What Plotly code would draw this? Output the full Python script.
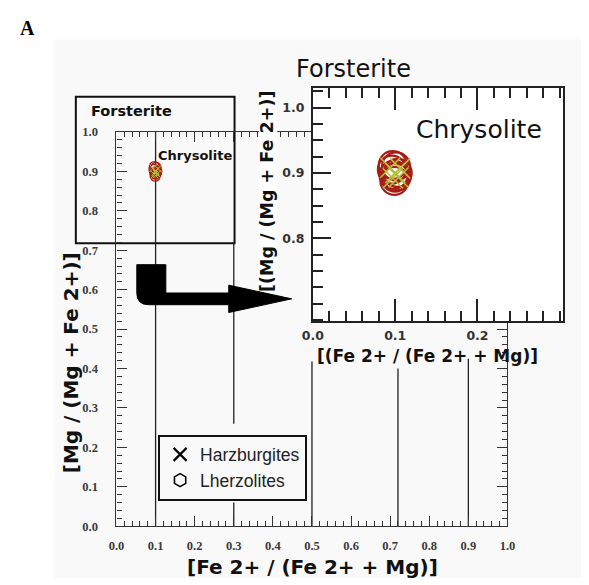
import plotly.graph_objects as go

W, H = 589, 585

# ---------------- data ----------------
# Lherzolites (olivine analyses): Fe# and Mg#
lherz_fe = [0.096, 0.098, 0.100, 0.101, 0.099, 0.103, 0.097, 0.102]
lherz_mg = [0.905, 0.897, 0.893, 0.910, 0.888, 0.900, 0.912, 0.895]
# Harzburgites
harz_fe = [0.094, 0.106, 0.097, 0.104, 0.100]
harz_mg = [0.908, 0.907, 0.892, 0.893, 0.900]

main_tickvals = [0.0, 0.1, 0.2, 0.3, 0.4, 0.5, 0.6, 0.7, 0.8, 0.9, 1.0]
inset_xtickvals = [0.0, 0.1, 0.2]
inset_ytickvals = [0.8, 0.9, 1.0]
inset_yminor = [0.675, 0.7, 0.725, 0.75, 0.775, 0.8, 0.825, 0.85, 0.875,
                0.9, 0.925, 0.95, 0.975, 1.0, 1.025]

# olivine class boundaries drawn in the main diagram (x, y-from, y-to)
bound_x = [0.1, 0.3, 0.3, 0.5, 0.72, 0.9]
bound_y0 = [0.0, 0.26, 0.0, 0.0, 0.0, 0.0]
bound_y1 = [1.0, 0.718, 0.06, 0.418, 0.40, 0.425]
inset_bound_x = [0.1]

legend_names = ["Harzburgites", "Lherzolites"]
RED = "#a81c16"
GREEN = "#b4bf3a"


def px(x):
    return x / W


def py(y):
    return 1 - y / H


fig = go.Figure()

# main diagram
fig.add_trace(go.Scatter(x=lherz_fe, y=lherz_mg, mode="markers", xaxis="x", yaxis="y",
                         showlegend=False, hoverinfo="skip",
                         marker=dict(symbol="circle-open", size=10, color=RED,
                                     line=dict(width=1.4, color=RED))))
fig.add_trace(go.Scatter(x=harz_fe, y=harz_mg, mode="markers", xaxis="x", yaxis="y",
                         showlegend=False, hoverinfo="skip",
                         marker=dict(symbol="x-thin-open", size=8, color=GREEN,
                                     line=dict(width=1, color=GREEN))))
# enlarged inset
fig.add_trace(go.Scatter(x=lherz_fe, y=lherz_mg, mode="markers", xaxis="x2", yaxis="y2",
                         showlegend=False, hoverinfo="skip",
                         marker=dict(symbol="circle-open", size=28, color=RED,
                                     line=dict(width=2.2, color=RED))))
fig.add_trace(go.Scatter(x=harz_fe, y=harz_mg, mode="markers", xaxis="x2", yaxis="y2",
                         showlegend=False, hoverinfo="skip",
                         marker=dict(symbol="x-thin-open", size=20, color=GREEN,
                                     line=dict(width=1.6, color=GREEN))))
# legend entries (black symbols as in the key)
fig.add_trace(go.Scatter(x=[None], y=[None], mode="markers", name=legend_names[0],
                         marker=dict(symbol="x-thin-open", size=13, color="black",
                                     line=dict(width=2.2, color="black"))))
fig.add_trace(go.Scatter(x=[None], y=[None], mode="markers", name=legend_names[1],
                         marker=dict(symbol="hexagon-open", size=13, color="black",
                                     line=dict(width=1.6, color="black"))))

shapes = []
# light grey page background
shapes.append(dict(type="rect", xref="paper", yref="paper", layer="below",
                   x0=px(45), x1=1, y0=0, y1=py(33),
                   fillcolor="#f9f9f9", line=dict(width=0)))
# box around the upper-left part of the diagram
shapes.append(dict(type="rect", xref="paper", yref="paper", layer="below",
                   x0=px(67), x1=px(231), y0=py(242), y1=py(92),
                   line=dict(color="#111", width=2)))
# boundary lines of the main diagram
for xv, a, b in zip(bound_x, bound_y0, bound_y1):
    shapes.append(dict(type="line", xref="x", yref="y", layer="below",
                       x0=xv, x1=xv, y0=a, y1=b, line=dict(color="#222", width=1.3)))
# boundary line in the inset
for xv in inset_bound_x:
    shapes.append(dict(type="line", xref="x2", yref="y2 domain", layer="below",
                       x0=xv, x1=xv, y0=0, y1=1, line=dict(color="#222", width=2)))
# white backdrop behind inset y title
shapes.append(dict(type="rect", xref="paper", yref="paper", layer="above",
                   x0=px(256), x1=px(275), y0=py(292), y1=py(86),
                   fillcolor="white", line=dict(width=0)))
# big bent arrow pointing to the inset
pts = [(130, 264), (160, 264), (160, 293), (225, 293), (225, 285), (290, 299),
       (225, 313), (225, 305), (142, 305)]
path = "M " + " L ".join(f"{px(a):.5f},{py(b):.5f}" for a, b in pts)
path += f" Q {px(130):.5f},{py(305):.5f} {px(130):.5f},{py(293):.5f} Z"
shapes.append(dict(type="path", xref="paper", yref="paper", layer="above", path=path,
                   fillcolor="black", line=dict(color="black", width=1)))

annotations = []


def ann(text, x, y, size, family, bold=False, angle=0, color="#111"):
    annotations.append(dict(text=f"<b>{text}</b>" if bold else text,
                            x=px(x), y=py(y), xref="paper", yref="paper",
                            xanchor="center", yanchor="middle", showarrow=False,
                            textangle=angle,
                            font=dict(size=size, family=family, color=color)))


ann("A", 17, 22, 20, "Liberation Serif", bold=True, color="black")
ann("Forsterite", 125, 107, 14.5, "DejaVu Sans", bold=True)
ann("Chrysolite", 190, 152, 13, "DejaVu Sans", bold=True)
ann("Forsterite", 354, 64, 24, "DejaVu Sans")
ann("Chrysolite", 484, 125, 25, "DejaVu Sans")
ann("[Fe 2+ / (Fe 2+ + Mg)]", 312, 574, 20, "DejaVu Sans", bold=True)
ann("[Mg / (Mg + Fe 2+)]", 62, 365, 20, "DejaVu Sans", bold=True, angle=-90)
ann("[(Fe 2+ / (Fe 2+ + Mg)]", 430, 358, 17, "DejaVu Sans", bold=True)
ann("[(Mg / (Mg + Fe 2+)]", 265, 189, 17.5, "DejaVu Sans", bold=True, angle=-90)

main_tickfont = dict(family="Liberation Serif", size=12.5, color="#3a3a3a", weight="bold")
inset_tickfont = dict(family="DejaVu Sans", size=12.5, color="#333", weight="bold")

main_axis = dict(range=[0, 1], showgrid=False, zeroline=False, showline=True,
                 linecolor="#333", linewidth=1.2, mirror="ticks", ticks="inside",
                 ticklen=10, tickwidth=1, tickcolor="#333", tickmode="array",
                 tickvals=main_tickvals, tickformat=".1f", tickfont=main_tickfont,
                 minor=dict(ticks="inside", ticklen=5, tickwidth=1, tickcolor="#333",
                            tickmode="linear", tick0=0, dtick=0.02, showgrid=False))

fig.update_layout(
    width=W, height=H, margin=dict(l=0, r=0, t=0, b=0),
    paper_bgcolor="white", plot_bgcolor="white",
    showlegend=True,
    legend=dict(x=px(152), y=py(438), xanchor="left", yanchor="top",
                bgcolor="rgba(249,249,249,1)", bordercolor="#111", borderwidth=2,
                font=dict(family="Liberation Sans", size=17.5, color="#222"),
                itemsizing="trace", tracegroupgap=0),
    xaxis=dict(main_axis, domain=[px(109), px(513)], anchor="y", ticklabelstandoff=8),
    yaxis=dict(main_axis, domain=[py(532), py(128)], anchor="x", ticklabelstandoff=15),
    xaxis2=dict(domain=[px(312), px(570)], anchor="y2", range=[0, 0.3035],
                showgrid=False, zeroline=False, showline=True, linecolor="#222",
                linewidth=2, mirror="ticks", ticks="inside", ticklen=22, tickwidth=2,
                tickcolor="#222", tickmode="array", tickvals=inset_xtickvals,
                tickformat=".1f", tickfont=inset_tickfont, ticklabelstandoff=2,
                minor=dict(ticks="inside", ticklen=10, tickwidth=2, tickcolor="#222",
                           tickmode="linear", tick0=0, dtick=0.02, showgrid=False)),
    yaxis2=dict(domain=[py(322), py(83)], anchor="x2", range=[0.673, 1.03],
                showgrid=False, zeroline=False, showline=True, linecolor="#222",
                linewidth=2, mirror=True, ticks="inside", ticklen=18, tickwidth=2,
                tickcolor="#222", tickmode="array", tickvals=inset_ytickvals,
                tickformat=".1f", tickfont=inset_tickfont, ticklabelstandoff=4,
                minor=dict(ticks="inside", ticklen=10, tickwidth=2, tickcolor="#222",
                           tickmode="array", tickvals=inset_yminor, showgrid=False)),
    shapes=shapes,
    annotations=annotations,
)

fig.write_html("out.html")
